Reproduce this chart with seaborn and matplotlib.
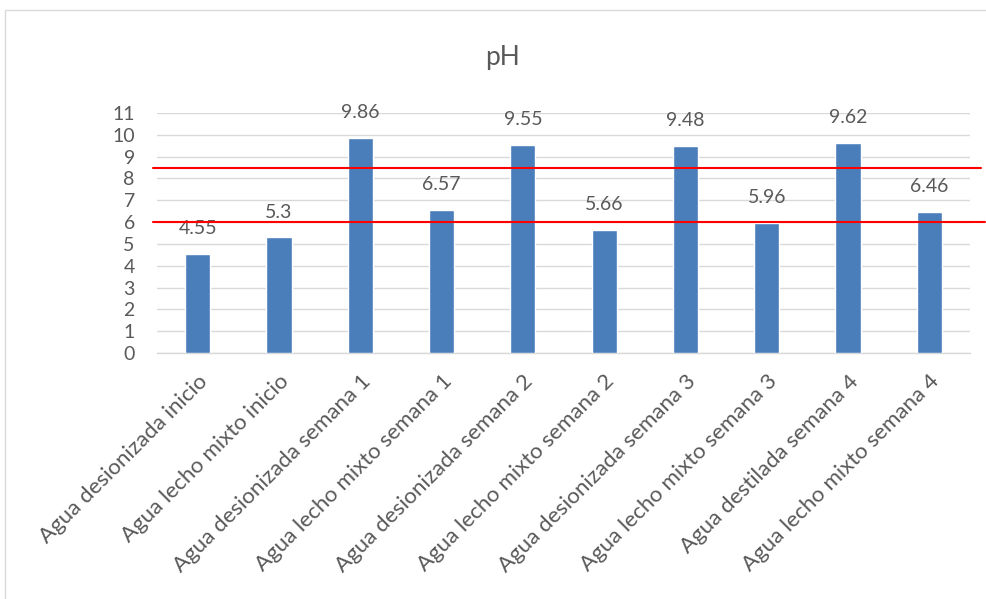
import matplotlib
matplotlib.use("Agg")
import matplotlib.pyplot as plt
import seaborn as sns
from matplotlib.patches import Rectangle

categories = [
    "Agua desionizada inicio",
    "Agua lecho mixto inicio",
    "Agua desionizada semana 1",
    "Agua lecho mixto semana 1",
    "Agua desionizada semana 2",
    "Agua lecho mixto semana 2",
    "Agua desionizada semana 3",
    "Agua lecho mixto semana 3",
    "Agua destilada semana 4",
    "Agua lecho mixto semana 4",
]
ph_values = [4.55, 5.3, 9.86, 6.57, 9.55, 5.66, 9.48, 5.96, 9.62, 6.46]
value_labels = ["4.55", "5.3", "9.86", "6.57", "9.55", "5.66", "9.48", "5.96", "9.62", "6.46"]
limits = [8.5, 6.0]
y_ticks = list(range(0, 12))

sns.set_theme(style="white")
plt.rcParams["font.family"] = ["Lato", "DejaVu Sans"]

text_gray = "#595959"
bar_blue = "#4A7EBB"

fig = plt.figure(figsize=(9.87, 5.99), dpi=100)
fig.patch.set_facecolor("white")

# outer chart frame
fig.add_artist(Rectangle((5 / 987, -0.2), 1.2, 1.2 - 10 / 599, transform=fig.transFigure,
                         fill=False, edgecolor="#d9d9d9", linewidth=1.0))

ax = fig.add_axes([157 / 987, 1 - 353 / 599, 813 / 987, 240 / 599])
sns.barplot(x=categories, y=ph_values, color=bar_blue, width=0.31,
            errorbar=None, saturation=1, ax=ax, zorder=3)

ax.set_ylim(0, 11)
ax.set_xlim(-0.5, len(categories) - 0.5)
ax.set_yticks(y_ticks)
ax.yaxis.grid(True, color="#d9d9d9", linewidth=1.0, zorder=0)
ax.set_axisbelow(True)
for side in ["top", "right", "left"]:
    ax.spines[side].set_visible(False)
ax.spines["bottom"].set_color("#d9d9d9")
ax.spines["bottom"].set_linewidth(1.0)
ax.tick_params(axis="both", length=0, colors=text_gray)
ax.tick_params(axis="y", pad=16, labelsize=14)
ax.tick_params(axis="x", pad=13)
ax.set_xlabel("")
ax.set_ylabel("")
ax.set_xticks(range(len(categories)))
ax.set_xticklabels(categories, rotation=45, ha="right", rotation_mode="anchor",
                   fontsize=16, color=text_gray)

for bar, txt in zip(ax.patches, value_labels):
    ax.annotate(txt, (bar.get_x() + bar.get_width() / 2, bar.get_height()),
                xytext=(0, 12), textcoords="offset points", ha="center", va="bottom",
                fontsize=14, color=text_gray)

# reference pH limits
ax.axhline(limits[0], xmin=-0.005, xmax=1.0135, color="#ff0000", linewidth=1.5,
           clip_on=False, zorder=4)
ax.axhline(limits[1], xmin=-0.005, xmax=1.018, color="#ff0000", linewidth=1.5,
           clip_on=False, zorder=4)

fig.text(503 / 987, 1 - 58 / 599, "pH", ha="center", va="center", fontsize=19, color=text_gray)

fig.savefig("out.png", dpi=100)
